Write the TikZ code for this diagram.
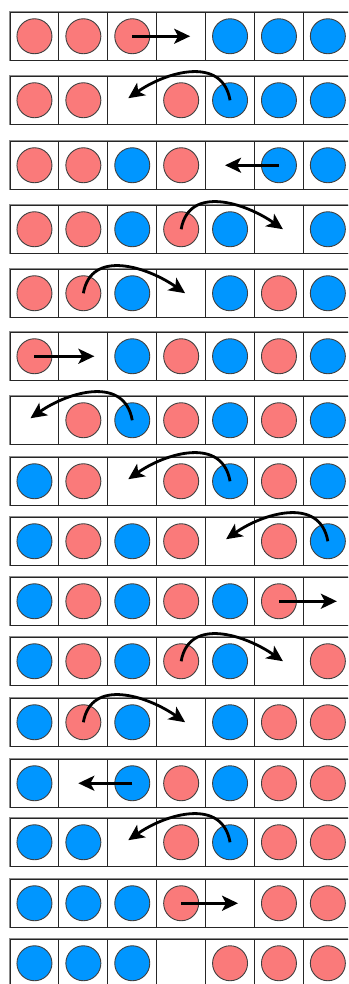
\documentclass[tikz,border=0pt]{standalone}
\usetikzlibrary{arrows.meta}
\definecolor{frogred}{RGB}{250,122,122}
\definecolor{frogblue}{RGB}{0,150,255}
\tikzset{
  frame/.style={draw=black!45, line width=1.8pt},
  cell/.style={draw=black!85, line width=0.9pt, minimum width=48.9pt,
    minimum height=48.5pt, inner sep=0pt, outer sep=0pt},
  token/.style={circle, draw=black!75, line width=0.9pt, minimum size=35pt, inner sep=0pt},
  token1/.style={token, fill=frogred},
  token2/.style={token, fill=frogblue},
  hop/.style={line width=2.8pt, -{Stealth[length=16pt,width=15pt,inset=4pt]}},
  leap/.style={hop, looseness=1.15}
}

\begin{document}
\begin{tikzpicture}[x=1pt,y=1pt]
	\useasboundingbox (0,0) rectangle (348,-984);
	\clip (0,0) rectangle (348,-984);
	
	%------------------------------------------------
	% Boards (1 = red, 2 = blue, 0 = empty)
	%------------------------------------------------
	\foreach \r/\top/\state in {
		1/12/{1,1,1,0,2,2,2},  2/76/{1,1,0,1,2,2,2},
		3/141/{1,1,2,1,0,2,2}, 4/205/{1,1,2,1,2,0,2},
		5/269/{1,1,2,0,2,1,2}, 6/332/{1,0,2,1,2,1,2},
		7/396/{0,1,2,1,2,1,2}, 8/457/{2,1,0,1,2,1,2},
		9/517/{2,1,2,1,0,1,2}, 10/577/{2,1,2,1,2,1,0},
		11/637/{2,1,2,1,2,0,1}, 12/698/{2,1,2,0,2,1,1},
		13/759/{2,0,2,1,2,1,1}, 14/818/{2,2,0,1,2,1,1},
		15/879/{2,2,2,1,0,1,1}, 16/939/{2,2,2,0,1,1,1}}{
		\draw[frame] (10,-\top) rectangle (352.3,-\top-48.5);
		\foreach \c [count=\i] in \state {
			\node[cell] (c\r-\i) at ({10+48.9*(\i-0.5)},{-\top-24.25}) {};
			\ifnum\c>0 \node[token\c] (t\r-\i) at (c\r-\i) {};\fi
		}
	}
	
	%------------------------------------------------
	% Moves
	%------------------------------------------------
	\draw[hop] (t1-3.center) -- ([xshift=9pt]c1-4.center);
	\draw[leap] (t2-5.center) to[out=100,in=35] ([xshift=-4pt,yshift=2pt]c2-3.center);
	\draw[hop] (t3-6.center) -- ([xshift=-5pt]c3-5.center);
	\draw[leap] (t4-4.center) to[out=80,in=145] ([xshift=4pt]c4-6.center);
	\draw[leap] (t5-2.center) to[out=80,in=145] ([xshift=4pt]c5-4.center);
	\draw[hop] (t6-1.center) -- ([xshift=11pt]c6-2.center);
	\draw[leap] (t7-3.center) to[out=100,in=35] ([xshift=-4pt,yshift=2pt]c7-1.center);
	\draw[leap] (t8-5.center) to[out=100,in=35] ([xshift=-4pt,yshift=2pt]c8-3.center);
	\draw[leap] (t9-7.center) to[out=100,in=35] ([xshift=-4pt,yshift=2pt]c9-5.center);
	\draw[hop] (t10-6.center) -- ([xshift=9pt]c10-7.center);
	\draw[leap] (t11-4.center) to[out=80,in=145] ([xshift=4pt]c11-6.center);
	\draw[leap] (t12-2.center) to[out=80,in=145] ([xshift=4pt]c12-4.center);
	\draw[hop] (t13-3.center) -- ([xshift=-5pt]c13-2.center);
	\draw[leap] (t14-5.center) to[out=100,in=35] ([xshift=-4pt,yshift=2pt]c14-3.center);
	\draw[hop] (t15-4.center) -- ([xshift=8pt]c15-5.center);
\end{tikzpicture}
\end{document}
